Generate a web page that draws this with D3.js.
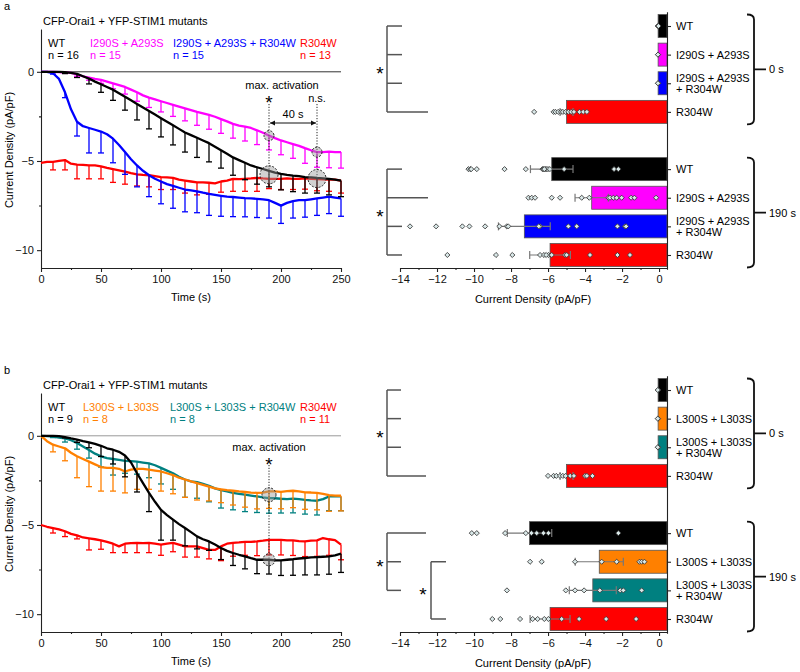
<!DOCTYPE html>
<html>
<head>
<meta charset="utf-8">
<script src="https://cdn.jsdelivr.net/npm/d3@7/dist/d3.min.js"></script>
<style>
  body { margin: 0; background: #fff; }
  svg { font-family: "Liberation Sans", Arial, sans-serif; font-size: 11px; }
</style>
</head>
<body>
<svg id="fig" width="800" height="672"></svg>
<script>
// sampling grid of the current traces (s) and the times that carry an SEM bar
var time = [0,5,10,15,20,25,30,35,40,45,50,55,60,65,70,75,80,85,90,95,100,105,110,115,120,125,130,135,140,145,150,155,160,165,170,175,180,185,190,195,200,205,210,215,220,225,230,235,240,245,250];
var errTime = [10,20,30,40,50,60,70,80,90,100,110,120,130,140,150,160,170,180,190,200,210,220,230,240,250];

// ---- panel a traces (pA/pF) ----
var wtA = [0,0,0,0,-0.02,-0.06,-0.12,-0.25,-0.38,-0.55,-0.7,-0.85,-1.0,-1.2,-1.4,-1.6,-1.8,-2.0,-2.2,-2.4,-2.6,-2.8,-3.0,-3.2,-3.4,-3.55,-3.7,-3.85,-4.0,-4.2,-4.4,-4.6,-4.8,-4.95,-5.1,-5.25,-5.35,-5.45,-5.55,-5.65,-5.72,-5.78,-5.82,-5.85,-5.9,-5.92,-5.95,-5.97,-6.0,-6.05,-6.1];
var wtAErr = [0.03,0.08,0.2,0.3,0.45,0.6,0.75,0.9,1.0,1.05,1.1,1.1,1.1,1.05,1.0,1.0,0.95,0.95,0.9,0.9,0.9,0.9,0.85,0.9,0.9];
var magA = [0,0,0,-0.02,-0.04,-0.06,-0.15,-0.25,-0.32,-0.4,-0.45,-0.55,-0.65,-0.75,-0.85,-1.0,-1.15,-1.32,-1.45,-1.55,-1.65,-1.75,-1.85,-1.95,-2.05,-2.15,-2.25,-2.33,-2.42,-2.52,-2.65,-2.78,-2.92,-3.02,-3.08,-3.15,-3.28,-3.42,-3.58,-3.72,-3.85,-3.95,-4.05,-4.15,-4.28,-4.4,-4.5,-4.5,-4.48,-4.5,-4.5];
var magAErr = [0.02,0.05,0.1,0.15,0.2,0.3,0.4,0.5,0.55,0.6,0.65,0.7,0.75,0.8,0.8,0.8,0.8,0.8,0.8,0.8,0.8,0.85,0.85,0.9,0.9];
var blueA = [0,0,-0.08,-0.4,-1.15,-2.1,-2.8,-3.05,-3.15,-3.25,-3.35,-3.5,-3.75,-4.1,-4.5,-4.9,-5.25,-5.55,-5.8,-6.0,-6.15,-6.3,-6.4,-6.5,-6.6,-6.65,-6.7,-6.78,-6.85,-6.9,-6.95,-7.0,-7.02,-7.05,-7.08,-7.1,-7.12,-7.15,-7.2,-7.35,-7.5,-7.35,-7.25,-7.2,-7.2,-7.15,-7.1,-7.05,-7.0,-7.05,-7.1];
var blueAErr = [0.05,0.3,0.8,1.4,1.2,1.35,1.25,1.2,1.2,1.25,1.25,1.25,1.2,1.2,1.15,1.1,1.05,1.05,1.0,1.0,0.95,0.95,0.95,0.95,1.0];
var redA = [-5.1,-5.05,-5.05,-5.0,-4.95,-5.15,-5.2,-5.22,-5.25,-5.25,-5.3,-5.38,-5.45,-5.52,-5.6,-5.68,-5.75,-5.78,-5.8,-5.85,-5.9,-5.92,-5.95,-6.05,-6.1,-6.15,-6.2,-6.2,-6.22,-6.25,-6.15,-6.1,-6.0,-6.02,-6.0,-5.98,-5.95,-5.98,-6.0,-6.0,-6.0,-5.98,-6.0,-6.0,-5.98,-6.0,-6.02,-6.03,-6.05,-6.05,-6.1];
var redAErr = [0.45,0.55,0.8,0.75,0.7,0.75,0.7,0.65,0.65,0.7,0.65,0.7,0.7,0.65,0.6,0.7,0.7,0.75,0.55,0.6,0.6,0.6,0.65,0.65,0.7];

// ---- panel b traces (pA/pF) ----
var wtB = [0,0,0,-0.02,-0.07,-0.15,-0.22,-0.3,-0.37,-0.45,-0.56,-0.7,-0.78,-0.9,-1.1,-1.5,-2.1,-2.65,-3.2,-3.7,-4.15,-4.45,-4.7,-4.95,-5.17,-5.4,-5.64,-5.8,-5.92,-6.1,-6.29,-6.45,-6.57,-6.67,-6.76,-6.86,-6.95,-6.95,-6.95,-6.98,-6.98,-6.95,-6.92,-6.88,-6.85,-6.82,-6.8,-6.78,-6.76,-6.7,-6.61];
var wtBErr = [0.02,0.05,0.15,0.3,0.6,0.8,1.2,1.05,1.05,1.7,1.15,1.0,0.7,0.5,0.65,0.7,0.7,0.78,0.8,0.85,0.9,0.95,1.0,1.0,1.05];
var orB = [0,-0.3,-0.5,-0.6,-0.7,-0.95,-1.15,-1.3,-1.45,-1.6,-1.75,-1.8,-1.8,-1.85,-2.0,-1.9,-1.85,-1.85,-1.9,-1.95,-2.0,-2.1,-2.2,-2.35,-2.45,-2.55,-2.65,-2.75,-2.85,-2.95,-3.0,-3.05,-3.08,-3.12,-3.15,-3.18,-3.2,-3.18,-3.12,-3.12,-3.14,-3.1,-3.08,-3.12,-3.17,-3.18,-3.2,-3.25,-3.33,-3.35,-3.36];
var orBErr = [0.4,0.7,1.2,1.4,1.35,1.3,1.2,1.15,1.1,1.1,1.05,1.0,0.95,0.8,0.75,0.8,0.85,0.9,0.95,0.95,0.95,0.95,0.95,0.9,0.85];
var tealB = [0,-0.02,-0.05,-0.1,-0.15,-0.25,-0.4,-0.6,-0.8,-1.0,-1.15,-1.25,-1.3,-1.35,-1.4,-1.42,-1.45,-1.5,-1.55,-1.65,-1.8,-1.95,-2.1,-2.3,-2.45,-2.55,-2.6,-2.7,-2.8,-2.95,-3.05,-3.12,-3.2,-3.25,-3.3,-3.35,-3.4,-3.45,-3.49,-3.5,-3.53,-3.55,-3.52,-3.55,-3.59,-3.62,-3.64,-3.55,-3.4,-3.4,-3.4];
var tealBErr = [0.05,0.2,0.35,0.45,0.6,0.9,0.7,0.7,0.8,0.9,0.9,1.0,0.9,0.9,1.0,0.95,0.95,0.9,0.85,0.8,0.8,0.8,0.8,0.8,0.8];
var redB = [-5.0,-5.1,-5.17,-5.25,-5.35,-5.5,-5.58,-5.7,-5.75,-5.8,-5.86,-5.95,-6.05,-6.2,-6.05,-6.02,-6.0,-6.02,-6.0,-6.05,-6.1,-6.05,-6.0,-6.1,-6.2,-6.2,-6.2,-6.3,-6.4,-6.4,-6.2,-6.05,-6.0,-5.98,-5.95,-5.95,-5.92,-5.88,-5.83,-5.83,-5.83,-5.86,-5.86,-5.9,-5.92,-5.88,-5.86,-5.73,-5.8,-5.85,-6.1];
var redBErr = [0.28,0.3,0.2,0.65,0.5,0.5,0.5,0.55,0.55,0.6,0.5,0.6,0.6,0.5,0.8,0.75,0.75,0.8,0.85,0.85,0.85,0.85,0.9,0.9,0.85];

// ---- legends / categories ----
var namesA = ["WT", "I290S + A293S", "I290S + A293S + R304W", "R304W"];
var nA = [16, 15, 15, 13];
var catsA = [["WT"], ["I290S + A293S"], ["I290S + A293S", "+ R304W"], ["R304W"]];
var namesB = ["WT", "L300S + L303S", "L300S + L303S + R304W", "R304W"];
var nB = [9, 8, 8, 11];
var catsB = [["WT"], ["L300S + L303S"], ["L300S + L303S", "+ R304W"], ["R304W"]];

// ---- bar summaries at 0 s and 190 s (mean, SEM, single cells) ----
var meanA0 = [-0.05, -0.05, -0.05, -5.0];
var semA0 = [0, 0, 0, 0.35];
var ptsA0 = [[-0.05, -0.07, -0.03], [-0.05, -0.06], [-0.05, -0.06],
  [-6.75, -5.7, -5.6, -5.45, -5.3, -5.2, -5.05, -4.9, -4.75, -4.6, -4.3, -4.1, -3.9]];
var meanA190 = [-5.8, -3.64, -7.28, -5.89];
var semA190 = [1.15, 0.9, 1.4, 1.1];
var ptsA190 = [
  [-10.3, -10.2, -10.15, -9.85, -8.35, -7.2, -6.3, -6.25, -6.15, -6.07, -6.0, -5.9, -5.13, -2.43, -2.2, -6.2],
  [-7.06, -6.88, -6.7, -5.8, -5.35, -4.18, -3.77, -2.74, -2.65, -2.47, -2.29, -2.02, -1.51, -1.33, -0.16],
  [-13.46, -12.05, -10.63, -10.25, -9.4, -8.63, -8.23, -8.15, -6.43, -4.9, -4.45, -2.25, -1.84, -1.78, -6.5],
  [-11.44, -8.81, -7.93, -6.43, -6.22, -5.98, -5.8, -5.08, -4.99, -3.73, -2.25, -1.57, -6.1]];
var meanB0 = [-0.05, -0.05, -0.05, -5.0];
var semB0 = [0, 0, 0, 0.35];
var ptsB0 = [[-0.05, -0.07], [-0.05, -0.07], [-0.05, -0.07],
  [-6.0, -5.7, -5.55, -5.35, -5.2, -5.05, -4.8, -4.6, -4.0, -3.9, -3.6]];
var meanB190 = [-7.0, -3.23, -3.58, -5.89];
var semB190 = [1.2, 1.3, 1.27, 1.08];
var ptsB190 = [
  [-10.12, -9.85, -8.32, -7.2, -6.9, -6.61, -6.25, -5.98, -2.2],
  [-6.97, -6.34, -4.54, -3.1, -2.29, -1.06, -0.94, -0.79],
  [-8.22, -5.04, -4.54, -4.05, -3.2, -2.1, -1.93, -0.94],
  [-9.01, -8.58, -7.51, -6.83, -6.56, -6.2, -5.98, -5.26, -4.32, -2.86, -1.24]];

var svg = d3.select("#fig");
var FONT = '"Liberation Sans", Arial, sans-serif';

function styleAxis(sel) {
    sel.attr("font-size", 11).attr("font-family", FONT);
    sel.selectAll("path, line").attr("stroke", "#222").attr("stroke-width", 1.1);
    sel.selectAll("text").attr("fill", "#111");
}

function drawTrace(g, x, y, vals, errs, color) {
    var byT = new Map(time.map((t, i) => [t, vals[i]]));
    var bars = errTime.map((t, i) => ({ t: t, v: byT.get(t), e: errs[i] }));
    var eb = g.append("g").attr("stroke", color).attr("stroke-width", 1.3);
    eb.selectAll(".stem").data(bars).join("line").attr("class", "stem")
        .attr("x1", d => x(d.t)).attr("x2", d => x(d.t))
        .attr("y1", d => y(d.v)).attr("y2", d => y(d.v - d.e));
    eb.selectAll(".cap").data(bars).join("line").attr("class", "cap")
        .attr("x1", d => x(d.t) - 3).attr("x2", d => x(d.t) + 3)
        .attr("y1", d => y(d.v - d.e)).attr("y2", d => y(d.v - d.e));
    g.append("path").datum(vals)
        .attr("fill", "none").attr("stroke", color).attr("stroke-width", 2.3)
        .attr("stroke-linejoin", "round")
        .attr("d", d3.line().x((d, i) => x(time[i])).y(d => y(d)));
}

function guideCircle(g, cx, cy, r) {
    g.append("circle").attr("cx", cx).attr("cy", cy).attr("r", r)
        .attr("fill", "#999").attr("fill-opacity", 0.45)
        .attr("stroke", "#222").attr("stroke-width", 1).attr("stroke-dasharray", "2,1.5");
}

// asterisk centred (roughly) on cy
function star(g, cx, cy) {
    g.append("text").attr("text-anchor", "middle").attr("x", cx).attr("y", cy + 11)
        .style("font-size", "19px").text("*");
}

function drawPanel(off, p) {
    var g = svg.append("g").attr("transform", `translate(0, ${off})`);

    // ---------------- time course ----------------
    var x = d3.scaleLinear().domain([0, 250]).range([41, 341]);
    var y = d3.scaleLinear().domain([-11, 2.4]).range([268, 29]);

    g.append("text").attr("x", 4).attr("y", 10).text(p.letter);
    g.append("text").attr("x", 43).attr("y", 25).text("CFP-Orai1 + YFP-STIM1 mutants");

    // legend
    p.names.forEach(function (nm, i) {
        g.append("text").attr("x", p.legendX[i]).attr("y", 47).attr("fill", p.colors[i]).text(nm);
        g.append("text").attr("x", p.legendX[i]).attr("y", 59).attr("fill", p.colors[i]).text("n = " + p.n[i]);
    });

    g.append("line").attr("x1", x(0)).attr("x2", x(250)).attr("y1", y(0)).attr("y2", y(0))
        .attr("stroke", p.zeroColor).attr("stroke-width", 1);

    var ax = g.append("g").attr("transform", "translate(0,268)")
        .call(d3.axisBottom(x).tickValues([0, 50, 100, 150, 200, 250]).tickSize(4).tickSizeOuter(0).tickPadding(3));
    styleAxis(ax);
    var axm = g.append("g").attr("transform", "translate(0,268)")
        .call(d3.axisBottom(x).tickValues([25, 75, 125, 175, 225]).tickSize(2).tickFormat(""));
    axm.select(".domain").remove();
    styleAxis(axm);
    var ay = g.append("g").attr("transform", "translate(41,0)")
        .call(d3.axisLeft(y).tickValues([0, -5, -10]).tickSize(4).tickSizeOuter(0).tickPadding(3));
    styleAxis(ay);
    var aym = g.append("g").attr("transform", "translate(41,0)")
        .call(d3.axisLeft(y).tickValues([-2.5, -7.5]).tickSize(2).tickFormat(""));
    aym.select(".domain").remove();
    styleAxis(aym);

    g.append("text").attr("text-anchor", "middle").attr("x", 191).attr("y", 301).text("Time (s)");
    g.append("text").attr("text-anchor", "middle").attr("transform", "rotate(-90)")
        .attr("x", -150).attr("y", 13).text("Current Density (pA/pF)");

    p.order.forEach(function (k) {
        drawTrace(g, x, y, p.traces[k], p.errs[k], p.colors[k]);
    });

    p.annotate(g, x, y);

    // ---------------- bar summary ----------------
    var xb = d3.scaleLinear().domain([-14, 0.43]).range([400, 667]);
    var yc = d3.scaleLinear().domain([-0.5, 8.5]).range([11.7, 269.3]);
    var base = xb.range()[1];
    var rows = [];
    p.cats.forEach(function (c, i) {
        rows.push({ slot: i, cat: i, mean: p.mean0[i], sem: p.sem0[i], pts: p.pts0[i], color: p.colors[i] });
        rows.push({ slot: i + 5, cat: i, mean: p.mean190[i], sem: p.sem190[i], pts: p.pts190[i], color: p.colors[i] });
    });
    var bh = 23;

    g.selectAll(".bar").data(rows).join("rect").attr("class", "bar")
        .attr("x", d => xb(d.mean)).attr("width", d => base - xb(d.mean))
        .attr("y", d => yc(d.slot) - bh / 2).attr("height", bh)
        .attr("fill", d => d.color).attr("stroke", "#555").attr("stroke-width", 0.8);

    var withSem = rows.filter(d => d.sem > 0);
    var eg = g.append("g").attr("stroke", "#777").attr("stroke-width", 1.2);
    eg.selectAll(".h").data(withSem).join("line")
        .attr("x1", d => xb(d.mean - d.sem)).attr("x2", d => xb(d.mean + d.sem))
        .attr("y1", d => yc(d.slot)).attr("y2", d => yc(d.slot));
    eg.selectAll(".cl").data(withSem).join("line")
        .attr("x1", d => xb(d.mean - d.sem)).attr("x2", d => xb(d.mean - d.sem))
        .attr("y1", d => yc(d.slot) - 4).attr("y2", d => yc(d.slot) + 4);
    eg.selectAll(".cr").data(withSem).join("line")
        .attr("x1", d => xb(d.mean + d.sem)).attr("x2", d => xb(d.mean + d.sem))
        .attr("y1", d => yc(d.slot) - 4).attr("y2", d => yc(d.slot) + 4);

    var cells = rows.flatMap(d => d.pts.map(v => ({ v: v, slot: d.slot })));
    g.selectAll(".cell").data(cells).join("path").attr("class", "cell")
        .attr("d", d3.symbol(d3.symbolSquare, 13))
        .attr("transform", d => `translate(${xb(d.v)},${yc(d.slot)}) rotate(45)`)
        .attr("fill", "#d9e8e8").attr("stroke", "#333").attr("stroke-width", 0.8);

    var bx = g.append("g").attr("transform", "translate(0,268)")
        .call(d3.axisBottom(xb).tickValues([-14, -12, -10, -8, -6, -4, -2, 0]).tickSize(4).tickSizeOuter(0).tickPadding(3));
    styleAxis(bx);
    var bxm = g.append("g").attr("transform", "translate(0,268)")
        .call(d3.axisBottom(xb).tickValues([-13, -11, -9, -7, -5, -3, -1]).tickSize(2).tickFormat(""));
    bxm.select(".domain").remove();
    styleAxis(bxm);
    var by = g.append("g").attr("transform", `translate(${base},0)`)
        .call(d3.axisRight(yc).tickValues([0, 1, 2, 3, 5, 6, 7, 8]).tickSize(4).tickSizeOuter(0).tickFormat(""));
    styleAxis(by);

    g.append("text").attr("text-anchor", "middle").attr("x", 533).attr("y", 303).text("Current Density (pA/pF)");

    // category labels
    rows.forEach(function (d) {
        var lines = p.cats[d.cat];
        var t = g.append("text").attr("x", 676);
        if (lines.length === 1) {
            t.attr("y", yc(d.slot) + 4).text(lines[0]);
        } else {
            t.append("tspan").attr("x", 676).attr("y", yc(d.slot) - 1.5).text(lines[0]);
            t.append("tspan").attr("x", 676).attr("y", yc(d.slot) + 9.5).text(lines[1]);
        }
    });

    // time brackets on the right
    [[0, 3, "0 s"], [5, 8, "190 s"]].forEach(function (b) {
        var top = yc(b[0]) - 11.5, bot = yc(b[1]) + 12.5, mid = (top + bot) / 2;
        g.append("path")
            .attr("d", `M747,${top} Q754,${top} 754,${top + 5} V${bot - 5} Q754,${bot} 747,${bot} M754,${mid} H766`)
            .attr("fill", "none").attr("stroke", "#111").attr("stroke-width", 1.8);
        g.append("text").attr("x", 769).attr("y", mid + 4).text(b[2]);
    });

    // significance brackets on the left
    p.sig.forEach(function (s) {
        var sg = g.append("g").attr("stroke", "#555").attr("stroke-width", 1.5).attr("fill", "none");
        sg.append("line").attr("x1", s.x).attr("x2", s.x)
            .attr("y1", yc(s.slots[0])).attr("y2", yc(s.slots[s.slots.length - 1]));
        s.slots.forEach(function (sl, i) {
            sg.append("line").attr("x1", s.x).attr("x2", s.ends[i]).attr("y1", yc(sl)).attr("y2", yc(sl));
        });
        star(g, s.starX, yc(s.starSlot));
    });
}

drawPanel(0, {
    letter: "a", zeroColor: "#333",
    names: namesA, n: nA, legendX: [48, 90, 173, 300],
    colors: ["#000000", "#ff00ff", "#0000ff", "#ff0000"],
    traces: [wtA, magA, blueA, redA], errs: [wtAErr, magAErr, blueAErr, redAErr],
    order: [3, 2, 1, 0],
    cats: catsA, mean0: meanA0, sem0: semA0, pts0: ptsA0,
    mean190: meanA190, sem190: semA190, pts190: ptsA190,
    sig: [
        { x: 387, slots: [0, 1, 2, 3], ends: [402, 402, 402, 428], starX: 380, starSlot: 1.5 },
        { x: 387, slots: [5, 6, 7, 8], ends: [402, 428, 402, 402], starX: 380, starSlot: 6.5 }
    ],
    annotate: function (g, x, y) {
        var i1 = time.indexOf(190), i2 = time.indexOf(230);
        g.append("text").attr("text-anchor", "middle").attr("x", 282).attr("y", 89).text("max. activation");
        star(g, x(190), 98);
        g.append("text").attr("text-anchor", "middle").attr("x", x(230)).attr("y", 102).text("n.s.");
        var lowA = (wtA[i1] + redA[i1]) / 2, lowB = (wtA[i2] + redA[i2]) / 2;
        var dg = g.append("g").attr("stroke", "#222").attr("stroke-width", 1).attr("stroke-dasharray", "1.2,1.6");
        dg.append("line").attr("x1", x(190)).attr("x2", x(190)).attr("y1", 104).attr("y2", y(lowA) + 9);
        dg.append("line").attr("x1", x(230)).attr("x2", x(230)).attr("y1", 104).attr("y2", y(lowB) + 9);
        // 40 s double arrow
        var ay = 123;
        g.append("line").attr("x1", x(190) + 1).attr("x2", x(230) - 1).attr("y1", ay).attr("y2", ay)
            .attr("stroke", "#111").attr("stroke-width", 1);
        g.append("path").attr("d", `M${x(190) + 1},${ay} l5,-2.5 v5 Z M${x(230) - 1},${ay} l-5,-2.5 v5 Z`).attr("fill", "#111");
        g.append("text").attr("text-anchor", "middle").attr("x", (x(190) + x(230)) / 2).attr("y", 118).text("40 s");
        guideCircle(g, x(190), y(magA[i1]), 5);
        guideCircle(g, x(230), y(magA[i2]), 5);
        guideCircle(g, x(190), y(lowA), 9);
        guideCircle(g, x(230), y(lowB), 9);
    }
});

drawPanel(364, {
    letter: "b", zeroColor: "#999",
    names: namesB, n: nB, legendX: [48, 83, 170, 300],
    colors: ["#000000", "#ff8000", "#008080", "#ff0000"],
    traces: [wtB, orB, tealB, redB], errs: [wtBErr, orBErr, tealBErr, redBErr],
    order: [3, 2, 1, 0],
    cats: catsB, mean0: meanB0, sem0: semB0, pts0: ptsB0,
    mean190: meanB190, sem190: semB190, pts190: ptsB190,
    sig: [
        { x: 387, slots: [0, 1, 2, 3], ends: [401, 401, 401, 426], starX: 380, starSlot: 1.5 },
        { x: 387, slots: [5, 6, 7], ends: [426, 401, 401], starX: 380, starSlot: 6 },
        { x: 431, slots: [6, 8], ends: [446, 446], starX: 423, starSlot: 7 }
    ],
    annotate: function (g, x, y) {
        var i1 = time.indexOf(190);
        var mid = (orB[i1] + tealB[i1]) / 2;
        g.append("text").attr("text-anchor", "middle").attr("x", 269).attr("y", 87).text("max. activation");
        star(g, x(190), 96);
        g.append("line").attr("x1", x(190)).attr("x2", x(190)).attr("y1", 101).attr("y2", y(wtB[i1]) + 6)
            .attr("stroke", "#222").attr("stroke-width", 1).attr("stroke-dasharray", "1.2,1.6");
        guideCircle(g, x(190), y(mid), 7);
        guideCircle(g, x(190), y(wtB[i1]), 6);
    }
});
</script>
</body>
</html>
